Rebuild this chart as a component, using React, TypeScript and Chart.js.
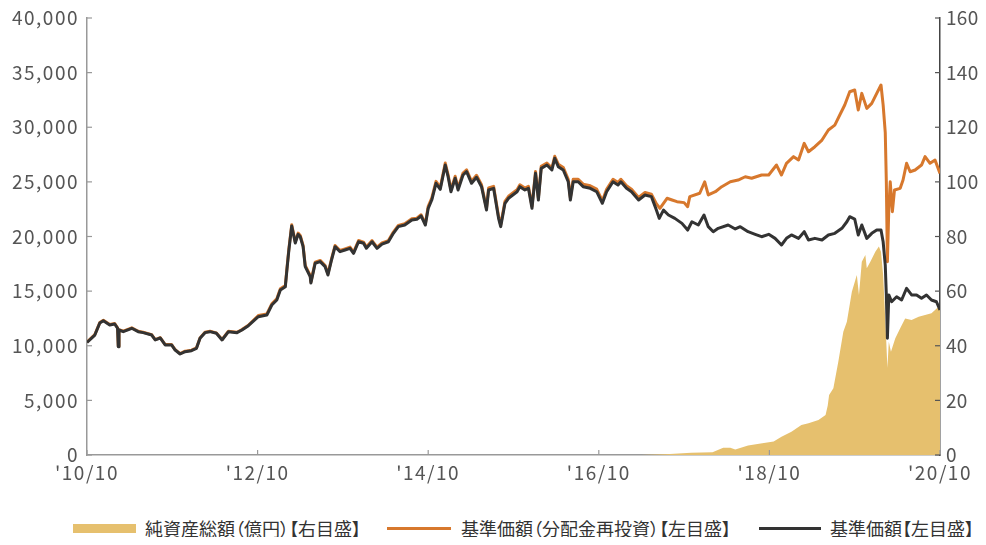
import React, { useEffect, useRef } from "react";
import { Chart, registerables, LinearScale } from "chart.js";

class SpacedLinearScale extends LinearScale {
  drawLabels(area: any) {
    const ctx = (this as any).ctx;
    const prev = ctx.letterSpacing;
    ctx.letterSpacing = ((this as any).options && (this as any).options.labelSpacing) || "0px";
    super.drawLabels(area);
    ctx.letterSpacing = prev;
  }
}
(SpacedLinearScale as any).id = "spacedLinear";
(SpacedLinearScale as any).defaults = (LinearScale as any).defaults;

Chart.register(...registerables, SpacedLinearScale as any);

// x = months since 2010/10
const tickMonths = [0, 24, 48, 72, 96, 120];
const tickLabels = ["'10/10", "'12/10", "'14/10", "'16/10", "'18/10", "'20/10"];

// 基準価額 (円)
const navPoints: [number, number][] = [
  [0, 10300], [1.1, 10980], [1.8, 12080], [2.3, 12290], [3.2, 11900], [3.9, 11990], [4.3, 11600], [4.4, 9910], [4.5, 11440],
  [5.1, 11290], [6.3, 11600], [7.2, 11290], [7.9, 11200], [9.1, 10980], [9.6, 10530], [10.3, 10710], [11.0, 10070], [11.9, 10070],
  [12.4, 9610], [13.1, 9245], [13.8, 9460], [14.7, 9550], [15.4, 9760], [15.9, 10680], [16.6, 11200], [17.3, 11290], [18.2, 11140],
  [19.0, 10530], [19.9, 11290], [21.1, 11200], [21.8, 11440], [22.7, 11840], [24.1, 12660], [25.3, 12810], [26.0, 13730], [26.7, 14190],
  [27.2, 15100], [27.9, 15400], [28.1, 16780], [28.4, 18760], [28.8, 20960], [29.3, 19400], [29.7, 20200], [30.0, 19980], [30.4, 19070],
  [30.7, 17240], [31.4, 16320], [31.5, 15740], [32.1, 17550], [32.8, 17700], [33.5, 17240], [33.9, 16480], [34.4, 17850], [34.9, 19070],
  [35.6, 18610], [36.3, 18760], [37.0, 18920], [37.5, 18460], [38.2, 19520], [38.9, 19380], [39.3, 18920], [40.1, 19520], [40.8, 18920],
  [41.5, 19310], [42.4, 19520], [43.1, 20290], [43.8, 20900], [44.7, 21050], [45.7, 21510], [46.4, 21570], [47.0, 21880], [47.6, 21050],
  [48.0, 22580], [48.5, 23340], [49.1, 24870], [49.7, 24320], [50.4, 26540], [50.8, 25470], [51.2, 24100], [51.8, 25330], [52.2, 24260],
  [52.9, 25630], [53.4, 25930], [54.1, 24870], [54.8, 25420], [55.5, 24560], [56.2, 22420], [56.5, 24260], [57.2, 24410], [57.9, 21660],
  [58.2, 20900], [58.8, 23040], [59.3, 23500], [60.5, 24100], [60.9, 24560], [61.6, 24260], [62.1, 24410], [62.6, 22580], [63.1, 25780],
  [63.5, 23340], [63.9, 26240], [64.7, 26540], [65.4, 26090], [65.8, 27160], [66.3, 26390], [67.0, 26090], [67.7, 25010], [68.0, 23340],
  [68.4, 25010], [69.1, 25010], [69.8, 24560], [70.8, 24410], [71.7, 24100], [72.5, 23040], [73.1, 24100], [74.0, 25010], [74.7, 24710],
  [75.1, 25010], [75.9, 24410], [76.6, 24100], [77.6, 23340], [78.5, 23800], [79.4, 23650], [80.1, 22420], [80.5, 21660], [81.1, 22420],
  [81.8, 21970], [82.7, 21660], [83.7, 21200], [84.5, 20590], [85.1, 21350], [86.0, 21050], [86.8, 21970], [87.4, 20900], [88.1, 20440],
  [88.8, 20750], [90.2, 21050], [91.2, 20690], [91.9, 20900], [93.0, 20440], [94.0, 20200], [94.9, 19980], [95.9, 20200], [96.8, 19830],
  [97.7, 19220], [98.4, 19830], [99.1, 20140], [100.1, 19830], [100.9, 20440], [101.5, 19680], [102.4, 19830], [103.4, 19680], [104.3, 20140],
  [105.2, 20290], [106.2, 20750], [106.9, 21350], [107.3, 21810], [108.0, 21600], [108.5, 20140], [109.0, 21050], [109.7, 19830], [110.4, 20290],
  [111.1, 20590], [111.7, 20590], [112.0, 19520], [112.3, 17390], [112.45, 14650], [112.6, 10680], [112.8, 14650], [113.2, 14030], [113.9, 14490],
  [114.6, 14190], [115.3, 15260], [116.0, 14650], [116.7, 14650], [117.4, 14340], [118.1, 14650], [118.8, 14190], [119.5, 14030], [120.0, 13270],
];

// 基準価額（分配金再投資）(円)
const navReinvPoints: [number, number][] = [
  [0, 10340], [1.1, 11020], [1.8, 12120], [2.3, 12330], [3.2, 11940], [3.9, 12030], [4.3, 11640], [4.4, 9950], [4.5, 11480],
  [5.1, 11330], [6.3, 11640], [7.2, 11330], [7.9, 11240], [9.1, 11020], [9.6, 10570], [10.3, 10750], [11.0, 10110], [11.9, 10110],
  [12.4, 9650], [13.1, 9285], [13.8, 9500], [14.7, 9590], [15.4, 9800], [15.9, 10720], [16.6, 11240], [17.3, 11330], [18.2, 11180],
  [19.0, 10570], [19.9, 11330], [21.1, 11240], [21.8, 11480], [22.7, 11880], [24.1, 12770], [25.3, 12920], [26.0, 13840], [26.7, 14300],
  [27.2, 15210], [27.9, 15510], [28.1, 16890], [28.4, 18870], [28.8, 21070], [29.3, 19510], [29.7, 20310], [30.0, 20090], [30.4, 19180],
  [30.7, 17350], [31.4, 16430], [31.5, 15850], [32.1, 17660], [32.8, 17810], [33.5, 17350], [33.9, 16590], [34.4, 17960], [34.9, 19180],
  [35.6, 18720], [36.3, 18870], [37.0, 19030], [37.5, 18570], [38.2, 19630], [38.9, 19490], [39.3, 19030], [40.1, 19630], [40.8, 19030],
  [41.5, 19420], [42.4, 19630], [43.1, 20400], [43.8, 21010], [44.7, 21160], [45.7, 21620], [46.4, 21680], [47.0, 21990], [47.6, 21160],
  [48.0, 22760], [48.5, 23520], [49.1, 25050], [49.7, 24500], [50.4, 26720], [50.8, 25650], [51.2, 24280], [51.8, 25510], [52.2, 24440],
  [52.9, 25810], [53.4, 26110], [54.1, 25050], [54.8, 25600], [55.5, 24740], [56.2, 22600], [56.5, 24440], [57.2, 24590], [57.9, 21840],
  [58.2, 21080], [58.8, 23220], [59.3, 23680], [60.5, 24280], [60.9, 24740], [61.6, 24440], [62.1, 24590], [62.6, 22760], [63.1, 25960],
  [63.5, 23520], [63.9, 26420], [64.7, 26720], [65.4, 26270], [65.8, 27340], [66.3, 26620], [67.0, 26320], [67.7, 25240], [68.0, 23570],
  [68.4, 25240], [69.1, 25240], [69.8, 24790], [70.8, 24640], [71.7, 24330], [72.5, 23270], [73.1, 24330], [74.0, 25240], [74.7, 24940],
  [75.1, 25240], [75.9, 24640], [76.6, 24330], [77.6, 23570], [78.5, 24030], [79.4, 23880], [80.1, 23000], [80.6, 22580], [81.6, 23500],
  [82.3, 23340], [83.0, 23190], [84.0, 23100], [84.5, 22730], [84.8, 23650], [86.2, 23960], [86.9, 25010], [87.4, 23800], [88.4, 24100],
  [89.3, 24560], [90.5, 25010], [91.6, 25170], [92.6, 25470], [93.5, 25330], [94.9, 25630], [95.9, 25630], [97.0, 26540], [97.7, 25630],
  [98.4, 26700], [99.4, 27310], [100.1, 27000], [100.9, 28530], [101.5, 27760], [102.4, 28220], [103.4, 28830], [104.3, 29750], [105.2, 30200],
  [105.9, 31120], [106.6, 32040], [107.3, 33250], [108.0, 33410], [108.5, 31580], [109.0, 33100], [109.7, 31730], [110.4, 32190], [111.1, 33100],
  [111.7, 33870], [112.0, 32040], [112.3, 29500], [112.45, 25000], [112.6, 17690], [112.8, 22580], [113.0, 25010], [113.3, 22270], [113.6, 24260],
  [114.4, 24410], [114.8, 25170], [115.3, 26700], [115.8, 25930], [116.5, 26090], [117.4, 26540], [117.9, 27310], [118.6, 26700], [119.3, 27000],
  [120.0, 25780],
];

// 純資産総額 (億円)
const netAssetPoints: [number, number][] = [
  [0, 0], [78, 0], [82, 0.4], [85, 0.8], [88, 1.0], [89.5, 2.7], [90.5, 2.7], [91.2, 2.0], [93, 3.5], [95, 4.3],
  [96.6, 4.9], [97.7, 6.7], [99.1, 8.5], [100.5, 11.0], [101.5, 11.6], [102.9, 12.8], [103.9, 14.6], [104.2, 18.0], [104.4, 22.0],
  [105.0, 24.4], [105.7, 34.2], [106.4, 45.1], [106.9, 48.8], [107.6, 59.8], [108.3, 65.9], [108.6, 58.6], [109.0, 70.8], [109.5, 73.2],
  [109.7, 68.4], [110.2, 70.8], [110.9, 74.4], [111.4, 76.3], [111.7, 74.4], [112.0, 65.9], [112.4, 43.9], [112.6, 31.9], [112.8, 41.5],
  [113.1, 37.8], [113.7, 42.7], [114.4, 46.4], [115.1, 50.0], [116.0, 49.4], [117.0, 50.6], [117.9, 51.3], [118.8, 51.9], [119.8, 54.3],
  [120.0, 54.3],
];

const legendLabels = ["純資産総額（億円）【右目盛】", "基準価額（分配金再投資）【左目盛】", "基準価額【左目盛】"];

const GOLD = "#E6C06E";
const ORANGE = "#D7782D";
const DARK = "#333333";
const FONT = "'Noto Sans CJK JP', 'Noto Sans', sans-serif";

const toXY = (pts: [number, number][]) => pts.map(([x, y]) => ({ x, y }));

const inwardTicks = {
  id: "inwardTicks",
  afterDatasetsDraw(chart: any) {
    const { ctx, chartArea, scales } = chart;
    const len = 5;
    ctx.save();
    ctx.lineWidth = 1.2;
    ctx.strokeStyle = "#999";
    scales.y.ticks.forEach((t: any) => {
      const y = scales.y.getPixelForValue(t.value);
      ctx.beginPath();
      ctx.moveTo(chartArea.left, y);
      ctx.lineTo(chartArea.left + len, y);
      ctx.stroke();
    });
    scales.x.ticks.forEach((t: any) => {
      const x = scales.x.getPixelForValue(t.value);
      ctx.beginPath();
      ctx.moveTo(x, chartArea.bottom);
      ctx.lineTo(x, chartArea.bottom - len);
      ctx.stroke();
    });
    ctx.strokeStyle = "#555";
    scales.y1.ticks.forEach((t: any) => {
      const y = scales.y1.getPixelForValue(t.value);
      ctx.beginPath();
      ctx.moveTo(chartArea.right, y);
      ctx.lineTo(chartArea.right - len, y);
      ctx.stroke();
    });
    ctx.restore();
  },
};

const noVPad = (s: any) => {
  s.paddingTop = 0;
  s.paddingBottom = 0;
};

export default function App() {
  const ref = useRef<HTMLCanvasElement | null>(null);

  useEffect(() => {
    if (!ref.current) return;
    const tickFont = { family: FONT, size: 19 };
    const chart = new Chart(ref.current, {
      type: "line",
      data: {
        datasets: [
          {
            label: legendLabels[0],
            data: toXY(netAssetPoints),
            yAxisID: "y1",
            borderWidth: 0,
            backgroundColor: GOLD,
            borderColor: GOLD,
            fill: "origin",
            pointRadius: 0,
            order: 3,
          },
          {
            label: legendLabels[1],
            data: toXY(navReinvPoints),
            yAxisID: "y",
            borderColor: ORANGE,
            backgroundColor: ORANGE,
            borderWidth: 3,
            pointRadius: 0,
            fill: false,
            order: 2,
          },
          {
            label: legendLabels[2],
            data: toXY(navPoints),
            yAxisID: "y",
            borderColor: DARK,
            backgroundColor: DARK,
            borderWidth: 3,
            pointRadius: 0,
            fill: false,
            order: 1,
          },
        ],
      },
      options: {
        animation: false,
        responsive: true,
        maintainAspectRatio: false,
        layout: { padding: { top: 10, left: 0, right: 0, bottom: 0 } },
        plugins: { legend: { display: false }, tooltip: { enabled: false } },
        elements: { line: { borderJoinStyle: "round", tension: 0 } },
        scales: {
          x: {
            type: "spacedLinear",
            labelSpacing: "1.5px",
            min: 0,
            max: 120,
            afterBuildTicks: (s: any) => {
              s.ticks = tickMonths.map((v) => ({ value: v }));
            },
            afterFit: (s: any) => {
              s.height = 43;
              s.paddingLeft = 0;
              s.paddingRight = 0;
            },
            ticks: {
              font: tickFont,
              color: "#555",
              padding: 6,
              maxRotation: 0,
              callback: (v: any) => tickLabels[tickMonths.indexOf(Number(v))] ?? "",
            },
            grid: { display: false, drawTicks: false },
            border: { display: true, color: "#999", width: 1.5 },
          },
          y: {
            type: "spacedLinear",
            labelSpacing: "1.5px",
            position: "left",
            min: 0,
            max: 40000,
            afterFit: (s: any) => {
              s.width = 79;
              noVPad(s);
            },
            ticks: {
              stepSize: 5000,
              font: tickFont,
              color: "#555",
              padding: 8,
              callback: (v: any) => Number(v).toLocaleString("en-US"),
            },
            grid: { display: false, drawTicks: false },
            border: { display: true, color: "#999", width: 1.5 },
          },
          y1: {
            type: "spacedLinear",
            labelSpacing: "0.3px",
            position: "right",
            min: 0,
            max: 160,
            afterFit: (s: any) => {
              s.width = 38;
              noVPad(s);
            },
            ticks: { stepSize: 20, font: tickFont, color: "#555", padding: 6 },
            grid: { display: false, drawTicks: false },
            border: { display: true, color: "#444", width: 1.5 },
          },
        } as any,
      },
      plugins: [inwardTicks],
    });
    return () => chart.destroy();
  }, []);

  const textStyle: React.CSSProperties = {
    position: "absolute",
    top: 0,
    fontFamily: FONT,
    fontSize: "18px",
    fontFeatureSettings: '"palt"',
    color: "#333",
    lineHeight: "24px",
    whiteSpace: "nowrap",
  };

  return (
    <div style={{ position: "relative", width: 970, height: 529 }}>
      <div style={{ position: "absolute", left: 0, top: 0, width: 970, height: 490 }}>
        <canvas ref={ref} />
      </div>
      <div style={{ position: "absolute", left: 0, top: 508, width: 970, height: 24 }}>
        <div style={{ position: "absolute", left: 65, top: 8, width: 63, height: 9, background: GOLD }} />
        <div style={{ ...textStyle, left: 137 }}>{legendLabels[0]}</div>
        <div style={{ position: "absolute", left: 379, top: 11, width: 64, height: 3, background: ORANGE }} />
        <div style={{ ...textStyle, left: 453 }}>{legendLabels[1]}</div>
        <div style={{ position: "absolute", left: 751, top: 11, width: 62, height: 3, background: DARK }} />
        <div style={{ ...textStyle, left: 822 }}>{legendLabels[2]}</div>
      </div>
    </div>
  );
}
